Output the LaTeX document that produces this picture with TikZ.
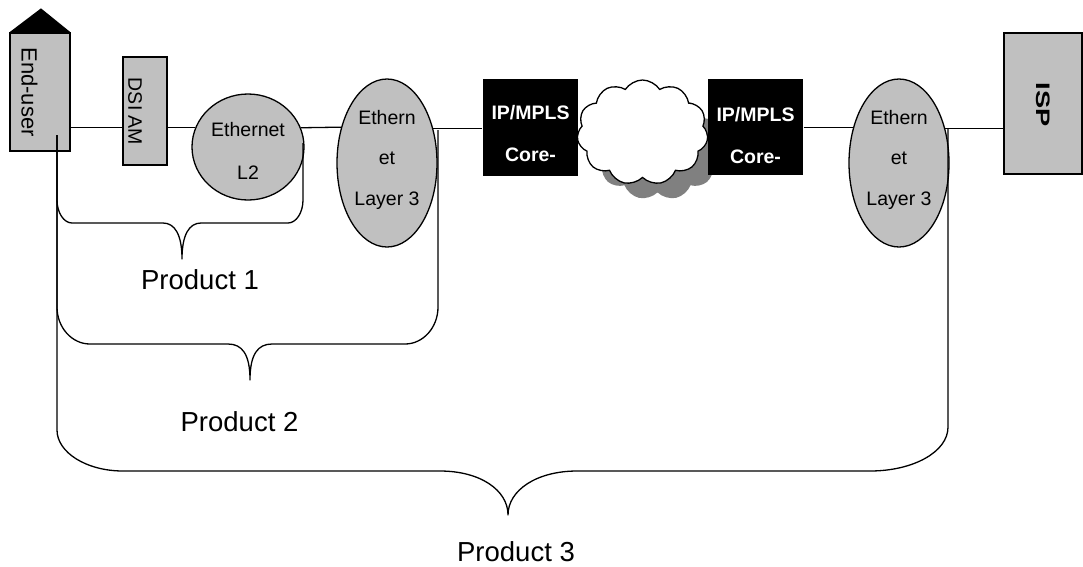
\documentclass[tikz,border=0pt]{standalone}
\usepackage{fontspec}
\usepackage{graphicx}
\setmainfont{Liberation Sans}
\usetikzlibrary{shapes.geometric,shapes.symbols,shadows}
\definecolor{boxgray}{HTML}{C0C0C0}
\definecolor{shadowgray}{HTML}{808080}
\begin{document}
\begin{tikzpicture}[x=1pt,y=-1pt,line width=1.3pt,
  graybox/.style={draw=black,fill=boxgray,rectangle,inner sep=0pt},
  grayell/.style={draw=black,fill=boxgray,ellipse,inner sep=0pt},
  corebox/.style={fill=black,rectangle,inner sep=0pt,minimum width=95pt,minimum height=97pt},
  coretxt/.style={text=white,align=center,font=\bfseries\fontsize{19.5}{42}\selectfont},
  elltxt/.style={align=center,font=\fontsize{19.5}{40.5}\selectfont},
  vtxt/.style={rotate=-90,inner sep=0pt},
  prodtxt/.style={font=\fontsize{27.5}{33}\selectfont},
  bracepath/.style={line width=1.3pt,line join=round}]
\useasboundingbox (0,0) rectangle (1083,566);

% cloud with shadow
\node[cloud,cloud puffs=11,cloud puff arc=115,draw=black,fill=white,inner sep=0pt,
      minimum width=131pt,minimum height=105pt,
      drop shadow={opacity=1,fill=shadowgray,shadow xshift=15pt,shadow yshift=-15pt}]
      (cloud) at (642.5,132.5) {};

% nodes
\node[graybox,minimum width=60pt,minimum height=118pt] (enduser) at (40,92) {};
\fill[black] (enduser.north west) -- ([xshift=1pt,yshift=24pt]enduser.north) -- (enduser.north east) -- cycle;
\node[vtxt,font=\fontsize{22}{26}\selectfont] (endusertxt) at (29.5,92) {End-user};

\node[graybox,minimum width=44pt,minimum height=108pt] (dslam) at (145,111) {};
\node[vtxt,font=\fontsize{19.5}{22}\selectfont] (dslamtxt) at (135,111.5) {DSI AM};

\node[grayell,minimum width=112pt,minimum height=106pt] (l2) at (248,147) {};
\node[align=center,font=\fontsize{19.5}{43}\selectfont] (l2txt) at (248,150.5) {Ethernet\\L2};

\node[grayell,minimum width=100pt,minimum height=168pt] (l3a) at (387,163) {};
\node[elltxt] (l3atxt) at (387,159.5) {Ethern\\et\\Layer 3};

\node[corebox] (core1) at (530.5,127.5) {};
\node[coretxt] (core1txt) at (530.5,134) {IP/MPLS\\Core-};

\node[corebox,minimum height=96pt] (core2) at (755.5,127) {};
\node[coretxt] (core2txt) at (755.5,136) {IP/MPLS\\Core-};

\node[grayell,minimum width=100pt,minimum height=168pt] (l3b) at (899,163) {};
\node[elltxt] (l3btxt) at (899,159.5) {Ethern\\et\\Layer 3};

\node[graybox,minimum width=78pt,minimum height=141pt] (isp) at (1043,103.5) {};
\node[vtxt,font=\bfseries\fontsize{19.5}{22}\selectfont] (isptxt) at (1043,104.5) {\scalebox{1.4}[1]{ISP}};

% connectors
\draw (enduser.east |- l2.160) -- (dslam.west |- l2.160);
\draw (dslam.east |- l2.160) -- (l2.160);
\draw (l2.20) -- (l3a.142.4);
\draw (l3a.37.6) -- (core1.west |- l3a.37.6);
\draw (core2.east |- l3b.142.4) -- (l3b.142.4);
\draw (l3b.37.6) -- (isp.west |- l3b.37.6);

% braces
\draw[bracepath] (57,135) -- (57,200) .. controls (57,212.6) and (63.8,223) .. (72,223)
  -- (163,223) .. controls (175,223) and (182,235) .. (182,259)
  .. controls (182,235) and (189,223) .. (201,223)
  -- (288,223) .. controls (296.2,223) and (303,212.6) .. (303,200) -- (303,143);
\draw[bracepath] (57,135) -- (57,307) .. controls (57,327.4) and (71.8,344) .. (90,344)
  -- (228,344) .. controls (242,344) and (250,354) .. (250,380)
  .. controls (250,354) and (258,344) .. (272,344)
  -- (405,344) .. controls (423.2,344) and (438,327.4) .. (438,307) -- (438,130);
\draw[bracepath] (57,135) -- (57,430) .. controls (57,452.6) and (86.7,471) .. (123,471)
  -- (440,471) .. controls (480,471) and (508,490) .. (508,515)
  .. controls (508,490) and (537,471) .. (577,471)
  -- (870,471) .. controls (913,471) and (948,452) .. (948,427) -- (948,128);

% labels
\node[prodtxt] (p1) at (200,280) {Product 1};
\node[prodtxt] (p2) at (239.5,422) {Product 2};
\node[prodtxt] (p3) at (516,552) {Product 3};
\end{tikzpicture}
\end{document}
